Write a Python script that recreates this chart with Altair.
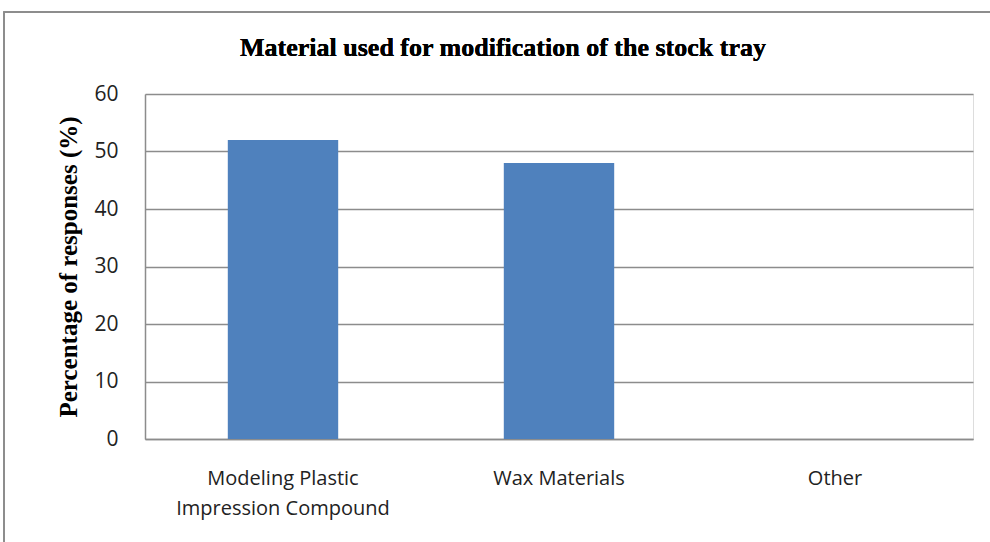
import altair as alt
import pandas as pd

# Survey results: material used to modify the stock tray
materials = ["Modeling Plastic Impression Compound", "Wax Materials", "Other"]
percentages = [52, 48, 0]
chart_title = "Material used for modification of the stock tray"

df = pd.DataFrame({"material": materials, "pct": percentages})

label_expr = (
    "datum.label == 'Modeling Plastic Impression Compound' "
    "? ['Modeling Plastic', 'Impression Compound'] : datum.label"
)

bars = alt.Chart(df).mark_bar(color="#4F81BD").encode(
    x=alt.X(
        "material:N",
        sort=materials,
        scale=alt.Scale(paddingInner=0.6, paddingOuter=0.3),
        axis=alt.Axis(
            title=None,
            labelAngle=0,
            labelExpr=label_expr,
            labelFont="Open Sans",
            labelFontSize=20,
            labelColor="#222222",
            labelPadding=29,
            labelLineHeight=30,
            labelBaseline="top",
            labelLimit=0,
            ticks=False,
            domainColor="#8c8c8c",
            domainWidth=1.5,
        ),
    ),
    y=alt.Y(
        "pct:Q",
        scale=alt.Scale(domain=[0, 60]),
        axis=alt.Axis(
            title="Percentage of responses (%)",
            titleFont="Liberation Serif",
            titleFontSize=25,
            titleFontWeight="bold",
            titleColor="#000000",
            titlePadding=12,
            values=[0, 10, 20, 30, 40, 50, 60],
            labelFont="Open Sans",
            labelFontSize=21,
            labelColor="#222222",
            labelPadding=27,
            ticks=False,
            domainColor="#8c8c8c",
            domainWidth=1.5,
            gridColor="#8c8c8c",
            gridWidth=1.5,
        ),
    ),
)

# Light-grey frame around the whole figure
frame = alt.Chart(df).mark_rect(fill=None, stroke="#8c8c8c", strokeWidth=1.5).encode(
    x=alt.value(-141), x2=alt.value(870), y=alt.value(-82), y2=alt.value(470)
)

# Chart heading, placed above the plot area
heading = alt.Chart(df).mark_text(
    font="Liberation Serif",
    fontSize=26,
    fontWeight="bold",
    color="#000000",
    align="center",
    baseline="middle",
).encode(
    x=alt.value(358), y=alt.value(-46), text=alt.value(chart_title)
)

chart = (
    alt.layer(frame, heading, bars)
    .properties(
        width=828,
        height=345,
        autosize="none",
        padding={"left": 145, "top": 94, "right": 17, "bottom": 103},
    )
    .configure_view(stroke=None)
    .configure(background="white")
)

chart.save("out.html", embed_options={"renderer": "svg", "actions": False})
